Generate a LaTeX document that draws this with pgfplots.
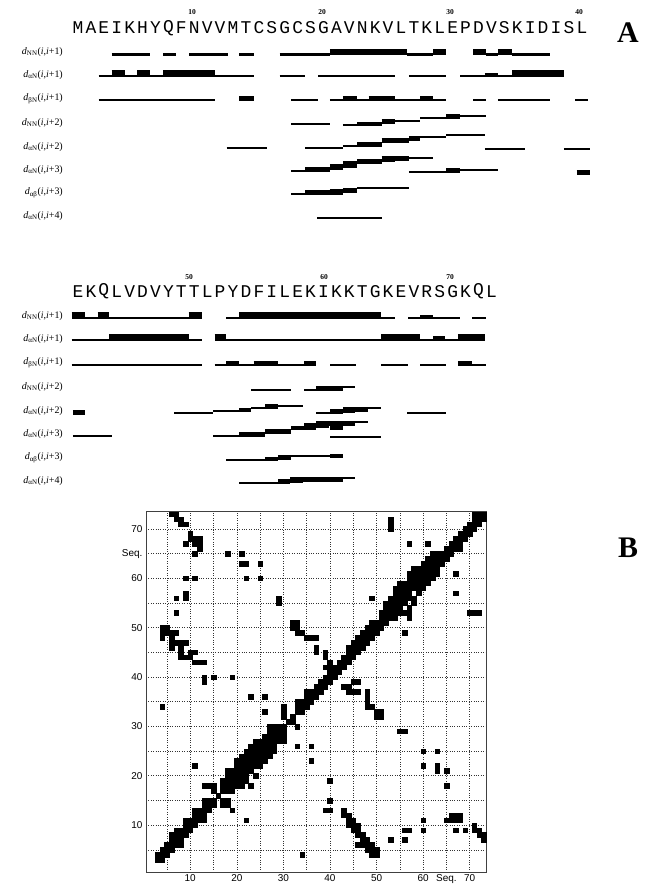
\documentclass[border=0pt]{standalone}
\usepackage{fontspec}
\setmainfont{Liberation Serif}
\setsansfont{Liberation Sans}
\setmonofont{Liberation Mono}
\usepackage{pgfplots}
\pgfplotsset{compat=1.18}
\tikzset{wk/.style={line width=2.2bp,line cap=butt,black},
 md/.style={line width=4.5bp,line cap=butt,black},
 st/.style={line width=6.8bp,line cap=butt,black}}
\newcommand{\rl}[2]{\textit{d}\textsubscript{#1}(\textit{i},\textit{i}+#2)}
\begin{document}
\begin{tikzpicture}
\path[use as bounding box] (0,0) rectangle (645bp,-886bp);
% ---------------- Panel A, block 1 (residues 1-40)
\begin{axis}[at={(0bp,0bp)},anchor=north west,scale only axis,width=645bp,height=240bp,
 xmin=-5.037,xmax=44.886,ymin=0,ymax=240,y dir=reverse,hide axis,clip=false]
% dNN(i,i+1)
\addplot[wk] coordinates {(3.6,54.4) (6.6,54.4)};
\addplot[wk] coordinates {(7.6,54.4) (8.6,54.4)};
\addplot[wk] coordinates {(9.6,54.4) (12.6,54.4)};
\addplot[wk] coordinates {(13.5,54.4) (14.6,54.4)};
\addplot[wk] coordinates {(16.6,54.4) (20.5,54.4)};
\addplot[st] coordinates {(20.5,52) (26.5,52)};
\addplot[wk] coordinates {(26.5,54.4) (28.5,54.4)};
\addplot[st] coordinates {(28.5,52) (29.5,52)};
\addplot[st] coordinates {(31.6,52) (32.6,52)};
\addplot[wk] coordinates {(32.6,54.4) (33.5,54.4)};
\addplot[st] coordinates {(33.5,52) (34.6,52)};
\addplot[wk] coordinates {(34.6,54.4) (37.5,54.4)};
% daN(i,i+1)
\addplot[wk] coordinates {(2.6,76.2) (3.6,76.2)};
\addplot[st] coordinates {(3.6,73.8) (4.6,73.8)};
\addplot[wk] coordinates {(4.6,76.2) (5.6,76.2)};
\addplot[st] coordinates {(5.6,73.8) (6.6,73.8)};
\addplot[wk] coordinates {(6.6,76.2) (7.6,76.2)};
\addplot[st] coordinates {(7.6,73.8) (11.6,73.8)};
\addplot[wk] coordinates {(11.6,76.2) (14.6,76.2)};
\addplot[wk] coordinates {(16.6,76.2) (18.6,76.2)};
\addplot[wk] coordinates {(19.6,76.2) (25.5,76.2)};
\addplot[wk] coordinates {(26.6,76.2) (29.5,76.2)};
\addplot[wk] coordinates {(30.6,76.2) (32.5,76.2)};
\addplot[md] coordinates {(32.5,75) (33.5,75)};
\addplot[wk] coordinates {(33.5,76.2) (34.6,76.2)};
\addplot[st] coordinates {(34.6,73.8) (38.6,73.8)};
% dbN(i,i+1)
\addplot[wk] coordinates {(2.6,99.9) (11.6,99.9)};
\addplot[md] coordinates {(13.5,98.7) (14.6,98.7)};
\addplot[wk] coordinates {(17.5,99.9) (19.6,99.9)};
\addplot[wk] coordinates {(20.5,99.9) (21.5,99.9)};
\addplot[md] coordinates {(21.5,98.7) (22.6,98.7)};
\addplot[wk] coordinates {(22.6,99.9) (23.5,99.9)};
\addplot[md] coordinates {(23.5,98.7) (25.5,98.7)};
\addplot[wk] coordinates {(25.5,99.9) (27.5,99.9)};
\addplot[md] coordinates {(27.5,98.7) (28.5,98.7)};
\addplot[wk] coordinates {(28.5,99.9) (29.5,99.9)};
\addplot[wk] coordinates {(31.6,99.9) (32.6,99.9)};
\addplot[wk] coordinates {(33.5,99.9) (37.5,99.9)};
\addplot[wk] coordinates {(39.5,99.9) (40.5,99.9)};
% dNN(i,i+2)
\addplot[wk] coordinates {(17.5,124.3) (20.5,124.3)};
\addplot[wk] coordinates {(21.5,125) (22.6,125)};
\addplot[md] coordinates {(22.6,124) (24.5,124)};
\addplot[md] coordinates {(24.5,121.7) (25.5,121.7)};
\addplot[wk] coordinates {(25.5,120.7) (27.5,120.7)};
\addplot[wk] coordinates {(27.5,118.3) (29.5,118.3)};
\addplot[md] coordinates {(29.5,116.7) (30.6,116.7)};
\addplot[wk] coordinates {(30.6,116) (32.6,116)};
% daN(i,i+2)
\addplot[wk] coordinates {(12.5,147.7) (15.6,147.7)};
\addplot[wk] coordinates {(18.6,148.3) (21.5,148.3)};
\addplot[wk] coordinates {(21.5,146) (22.6,146)};
\addplot[md] coordinates {(22.6,144.3) (24.5,144.3)};
\addplot[md] coordinates {(24.5,140.7) (26.6,140.7)};
\addplot[md] coordinates {(26.6,138.3) (27.5,138.3)};
\addplot[wk] coordinates {(27.5,136.7) (29.5,136.7)};
\addplot[wk] coordinates {(29.5,135) (32.5,135)};
\addplot[wk] coordinates {(32.5,149.3) (35.6,149.3)};
\addplot[wk] coordinates {(38.6,149.3) (40.6,149.3)};
% daN(i,i+3)
\addplot[wk] coordinates {(17.5,171) (18.6,171)};
\addplot[md] coordinates {(18.6,169.3) (20.5,169.3)};
\addplot[st] coordinates {(20.5,167) (21.5,167)};
\addplot[st] coordinates {(21.5,164.3) (22.6,164.3)};
\addplot[md] coordinates {(22.6,161.5) (24.5,161.5)};
\addplot[st] coordinates {(24.5,159) (25.5,159)};
\addplot[md] coordinates {(25.5,158.5) (26.6,158.5)};
\addplot[wk] coordinates {(26.6,157.7) (28.5,157.7)};
\addplot[wk] coordinates {(26.6,171.7) (29.5,171.7)};
\addplot[md] coordinates {(29.5,170.3) (30.6,170.3)};
\addplot[wk] coordinates {(30.6,170) (33.5,170)};
\addplot[md] coordinates {(39.6,172.3) (40.6,172.3)};
% dab(i,i+3)
\addplot[wk] coordinates {(17.5,194.3) (18.6,194.3)};
\addplot[md] coordinates {(18.6,192.5) (20.5,192.5)};
\addplot[st] coordinates {(20.5,192) (21.5,192)};
\addplot[md] coordinates {(21.5,190.5) (22.6,190.5)};
\addplot[wk] coordinates {(22.6,188) (26.6,188)};
% daN(i,i+4)
\addplot[wk] coordinates {(19.5,218.3) (24.5,218.3)};
\end{axis}
% ---------------- Panel A, block 2 (residues 41-73)
\begin{axis}[at={(0bp,-250bp)},anchor=north west,scale only axis,width=645bp,height=250bp,
 xmin=35.385,xmax=85,ymin=250,ymax=500,y dir=reverse,hide axis,clip=false]
% dNN(i,i+1)
\addplot[st] coordinates {(40.9,315.8) (41.9,315.8)};
\addplot[wk] coordinates {(41.9,318.2) (42.9,318.2)};
\addplot[st] coordinates {(42.9,315.8) (43.8,315.8)};
\addplot[wk] coordinates {(43.8,318.2) (49.9,318.2)};
\addplot[st] coordinates {(49.9,315.8) (50.9,315.8)};
\addplot[wk] coordinates {(52.8,318.2) (53.8,318.2)};
\addplot[st] coordinates {(53.8,315.8) (64.7,315.8)};
\addplot[wk] coordinates {(64.7,318.2) (65.8,318.2)};
\addplot[wk] coordinates {(66.8,318.2) (67.7,318.2)};
\addplot[md] coordinates {(67.7,317) (68.7,317)};
\addplot[wk] coordinates {(68.7,318.2) (70.8,318.2)};
\addplot[wk] coordinates {(71.7,318.2) (72.8,318.2)};
% daN(i,i+1)
\addplot[wk] coordinates {(40.9,339.9) (43.8,339.9)};
\addplot[st] coordinates {(43.8,337.5) (49.9,337.5)};
\addplot[wk] coordinates {(49.9,339.9) (50.9,339.9)};
\addplot[st] coordinates {(51.9,337.5) (52.8,337.5)};
\addplot[wk] coordinates {(52.8,339.9) (64.7,339.9)};
\addplot[st] coordinates {(64.7,337.5) (67.7,337.5)};
\addplot[wk] coordinates {(67.7,339.9) (68.7,339.9)};
\addplot[md] coordinates {(68.7,338.7) (69.6,338.7)};
\addplot[wk] coordinates {(69.6,339.9) (70.6,339.9)};
\addplot[st] coordinates {(70.6,337.5) (72.7,337.5)};
% dbN(i,i+1)
\addplot[wk] coordinates {(40.9,364.9) (50.9,364.9)};
\addplot[wk] coordinates {(51.9,364.9) (52.8,364.9)};
\addplot[md] coordinates {(52.8,363.7) (53.8,363.7)};
\addplot[wk] coordinates {(53.8,364.9) (54.9,364.9)};
\addplot[md] coordinates {(54.9,363.7) (56.8,363.7)};
\addplot[wk] coordinates {(56.8,364.9) (58.8,364.9)};
\addplot[md] coordinates {(58.8,363.7) (59.7,363.7)};
\addplot[wk] coordinates {(60.8,364.9) (62.8,364.9)};
\addplot[wk] coordinates {(64.7,364.9) (66.8,364.9)};
\addplot[wk] coordinates {(67.7,364.9) (69.7,364.9)};
\addplot[md] coordinates {(70.6,363.7) (71.7,363.7)};
\addplot[wk] coordinates {(71.7,364.9) (72.8,364.9)};
% dNN(i,i+2)
\addplot[wk] coordinates {(54.7,390) (57.8,390)};
\addplot[wk] coordinates {(58.8,390) (59.7,390)};
\addplot[md] coordinates {(59.7,388.5) (61.8,388.5)};
\addplot[wk] coordinates {(61.8,386.7) (62.7,386.7)};
% daN(i,i+2)
\addplot[md] coordinates {(41,412.7) (41.9,412.7)};
\addplot[wk] coordinates {(48.8,413.3) (51.8,413.3)};
\addplot[wk] coordinates {(51.8,411) (53.8,411)};
\addplot[md] coordinates {(53.8,410) (54.7,410)};
\addplot[wk] coordinates {(54.7,408.3) (55.8,408.3)};
\addplot[md] coordinates {(55.8,406.7) (56.8,406.7)};
\addplot[wk] coordinates {(56.8,405.7) (58.7,405.7)};
\addplot[wk] coordinates {(59.7,413.3) (61.8,413.3)};
\addplot[md] coordinates {(60.8,411) (62.7,411)};
\addplot[md] coordinates {(61.8,409.3) (63.7,409.3)};
\addplot[wk] coordinates {(63.7,408.3) (64.7,408.3)};
\addplot[wk] coordinates {(66.7,413.3) (69.7,413.3)};
% daN(i,i+3)
\addplot[wk] coordinates {(41,435.7) (44,435.7)};
\addplot[wk] coordinates {(51.8,436) (53.8,436)};
\addplot[md] coordinates {(53.8,434.3) (55.8,434.3)};
\addplot[md] coordinates {(55.8,431.7) (57.8,431.7)};
\addplot[md] coordinates {(57.8,428) (59.7,428)};
\addplot[md] coordinates {(58.8,425.5) (60.7,425.5)};
\addplot[md] coordinates {(59.7,423.5) (62.7,423.5)};
\addplot[wk] coordinates {(62.7,422.3) (63.7,422.3)};
\addplot[md] coordinates {(60.8,428) (61.8,428)};
\addplot[wk] coordinates {(60.8,436.7) (64.7,436.7)};
% dab(i,i+3)
\addplot[wk] coordinates {(52.8,460) (55.8,460)};
\addplot[md] coordinates {(55.8,459) (56.8,459)};
\addplot[md] coordinates {(56.8,457.3) (57.8,457.3)};
\addplot[wk] coordinates {(57.8,456) (61.8,456)};
\addplot[md] coordinates {(60.8,456) (61.8,456)};
% daN(i,i+4)
\addplot[wk] coordinates {(53.8,483.3) (57.7,483.3)};
\addplot[md] coordinates {(56.8,481) (58.7,481)};
\addplot[md] coordinates {(57.7,479.3) (61.8,479.3)};
\addplot[wk] coordinates {(61.8,478.3) (62.7,478.3)};
\end{axis}
% ---------------- Panel B: contact map
\begin{axis}[at={(146bp,-872bp)},anchor=south west,scale only axis,width=340bp,height=360.3bp,
 xmin=0.5,xmax=73.5,ymin=0.5,ymax=73.5,
 xtick={5,10,...,70},ytick={5,10,...,70},
 xticklabels={,10,,20,,30,,40,,50,,60,Seq.,70},
 yticklabels={,10,,20,,30,,40,,50,,60,Seq.,70},
 grid=major,major grid style={dotted,black!80,line width=0.6bp},
 tick style={draw=none},
 ticklabel style={font=\sffamily\fontsize{10}{10}\selectfont},
 xticklabel style={yshift=1bp},
 axis line style={line width=0.8bp,black!75}]
\addplot[only marks,mark=square*,mark size=2.3bp,black] coordinates {
(3,3) (3,4) (4,3) (4,4) (4,5) (5,4) (5,5) (5,6) (6,5) (6,6) (6,7) (6,8)
(7,6) (7,7) (7,8) (7,9) (8,6) (8,7) (8,8) (8,9) (9,8) (9,9) (9,10) (9,11)
(10,9) (10,10) (10,11) (11,10) (11,11) (11,12) (11,13) (12,11) (12,12) (12,13)
(13,11) (13,12) (13,13) (13,14) (13,15) (13,18) (14,13) (14,14) (14,15) (14,18)
(15,14) (15,15) (15,17) (15,18) (16,16) (17,14) (17,15) (17,17) (17,18) (17,19)
(18,17) (18,18) (18,19) (18,20) (18,21) (18,14) (18,15) (19,13)
(19,17) (19,18) (19,19) (19,20) (19,21)
(20,18) (20,19) (20,20) (20,21) (20,22) (20,23)
(21,18) (21,19) (21,20) (21,21) (21,22) (21,23) (21,24)
(22,19) (22,20) (22,21) (22,22) (22,23) (22,24) (22,25)
(23,18) (23,21) (23,22) (23,23) (23,24) (23,25) (23,26)
(24,20) (24,22) (24,23) (24,24) (24,25) (24,26) (24,27)
(25,22) (25,23) (25,24) (25,25) (25,26) (25,27)
(26,23) (26,24) (26,25) (26,26) (26,27) (26,28)
(27,24) (27,25) (27,26) (27,27) (27,28) (27,29) (27,30)
(28,25) (28,26) (28,27) (28,28) (28,29) (28,30)
(29,27) (29,28) (29,29) (29,30)
(30,27) (30,28) (30,29) (30,30) (30,32) (30,33) (30,34)
(31,31) (32,31) (32,32) (33,30) (33,33) (33,34) (33,35)
(34,33) (34,34) (34,35) (35,34) (35,35) (35,36) (35,37)
(36,35) (36,36) (36,37) (37,36) (37,37) (37,38) (38,37) (38,38) (38,39)
(39,38) (39,39) (39,40) (40,39) (40,40) (40,41) (41,40) (41,41) (41,42)
(42,41) (42,42) (42,43) (43,42) (43,43) (43,44)
(44,43) (44,44) (44,45) (44,46) (45,44) (45,45) (45,46) (45,47)
(46,45) (46,46) (46,47) (46,48) (47,46) (47,47) (47,48) (47,49)
(48,47) (48,48) (48,49) (48,50) (49,48) (49,49) (49,50) (49,51)
(50,49) (50,50) (50,51) (51,50) (51,51) (51,52) (51,53)
(52,51) (52,52) (52,53) (52,54) (52,55)
(53,52) (53,53) (53,54) (53,55) (53,56)
(54,52) (54,53) (54,54) (54,55) (54,56) (54,57) (54,58)
(55,53) (55,54) (55,55) (55,56) (55,57) (55,58) (55,59)
(56,53) (56,55) (56,56) (56,57) (56,58) (56,59)
(57,52) (57,53) (57,54) (57,56) (57,57) (57,58) (57,59) (57,60) (57,61)
(58,55) (58,56) (58,58) (58,59) (58,60) (58,61) (58,62)
(59,57) (59,58) (59,59) (59,60) (59,61) (59,62)
(60,58) (60,59) (60,60) (60,61) (60,62) (60,63)
(61,59) (61,60) (61,61) (61,62) (61,63) (61,64)
(62,60) (62,61) (62,62) (62,63) (62,64) (62,65)
(63,61) (63,62) (63,63) (63,64) (63,65)
(64,63) (64,64) (64,65) (65,64) (65,65) (65,66) (66,65) (66,66) (66,67)
(67,66) (67,67) (67,68) (68,66) (68,67) (68,68) (68,69)
(69,68) (69,69) (69,70) (70,69) (70,70) (70,71)
(71,70) (71,71) (71,72) (71,73) (72,71) (72,72) (72,73) (73,72) (73,73)
};
\addplot[only marks,mark=square*,mark size=2.3bp,black] coordinates {
(6,73) (7,73) (7,72) (8,72) (8,71) (9,71)
(10,69) (10,68) (11,68) (11,67) (12,68) (12,67) (12,66) (9,67) (11,65)
(18,65) (21,65) (21,63) (22,63) (25,63) (22,60) (25,60) (9,60) (11,60)
(29,56) (29,55) (7,56) (9,57) (9,56) (7,53)
(4,50) (4,49) (4,48) (5,50) (5,49) (6,49) (7,49) (6,48) (6,47) (6,46)
(7,47) (8,47) (9,47) (8,46) (8,45) (8,44) (9,44) (10,45) (10,44) (11,45)
(11,43) (12,43) (13,43) (13,40) (13,39) (15,40) (19,40)
(32,51) (33,51) (32,50) (33,50) (33,49) (34,49) (35,48) (36,48) (37,48)
(37,46) (37,45) (39,45) (39,44) (40,43) (39,42) (40,42)
(53,72) (53,71) (53,70) (57,67) (61,67) (49,56)
(4,34) (23,36) (26,36) (26,33) (11,22)
};
\addplot[only marks,mark=square*,mark size=2.3bp,black] coordinates {
(67,61) (67,57) (70,53) (71,53) (72,53) (56,49)
(43,38) (44,38) (45,39) (46,39) (44,37) (45,37) (46,37) (48,37) (48,36) (48,35)
(48,34) (49,34) (50,33) (51,33) (50,32) (51,32)
(55,29) (56,29) (60,25) (63,25) (60,22) (63,22) (63,21) (65,21) (65,18)
(65,11) (66,12) (67,12) (68,12) (66,11) (67,11) (68,11) (67,9) (69,9)
(71,10) (71,9) (72,9) (72,8) (73,8) (73,7)
(60,11) (60,9) (56,9) (57,9) (56,7) (53,7)
(43,13) (43,12) (44,12) (44,11) (45,11) (44,10) (45,10) (46,10) (45,9) (46,9)
(46,8) (47,8) (47,7) (48,7) (46,6) (47,6) (48,6) (49,6) (48,5) (49,5) (50,5)
(49,4) (50,4)
(22,11) (33,26) (36,26) (36,23) (40,19) (40,15) (39,13) (40,13) (34,4)
};
\end{axis}
% ---------------- Texts
\begin{scope}[x=1bp,y=-1bp]
\foreach \c [count=\i] in {M,A,E,I,K,H,Y,Q,F,N,V,V,M,T,C,S,G,C,S,G,A,V,N,K,V,L,T,K,L,E,P,D,V,S,K,I,D,I,S,L}
 \node[font=\ttfamily\fontsize{18}{18}\selectfont,inner sep=0pt] at ({78+(\i-1)*12.92},28) {\c};
\foreach \c [count=\i] in {E,K,Q,L,V,D,V,Y,T,T,L,P,Y,D,F,I,L,E,K,I,K,K,T,G,K,E,V,R,S,G,K,Q,L}
 \node[font=\ttfamily\fontsize{18}{18}\selectfont,inner sep=0pt] at ({78+(\i-1)*12.92},291.5) {\c};
\foreach \n/\x in {10/192,20/322,30/450,40/579}
 \node[font=\bfseries\fontsize{7.5}{8}\selectfont,inner sep=0pt] at (\x,12) {\n};
\foreach \n/\x in {50/189,60/324,70/450}
 \node[font=\bfseries\fontsize{7.5}{8}\selectfont,inner sep=0pt] at (\x,277) {\n};
\foreach \y/\a/\b in {52/NN/1,75/αN/1,99/βN/1,123/NN/2,147/αN/2,170/αN/3,193/αβ/3,216/αN/4}
 \node[anchor=east,font=\fontsize{10}{11}\selectfont,inner sep=0pt] at (63,\y) {\rl{\a}{\b}};
\foreach \y/\a/\b in {316/NN/1,339/αN/1,363/βN/1,387/NN/2,411/αN/2,434/αN/3,458/αβ/3,481/αN/4}
 \node[anchor=east,font=\fontsize{10}{11}\selectfont,inner sep=0pt] at (63,\y) {\rl{\a}{\b}};
\node[font=\bfseries\fontsize{30}{30}\selectfont] at (628,33) {A};
\node[font=\bfseries\fontsize{30}{30}\selectfont] at (628,548) {B};
\end{scope}
\end{tikzpicture}
\end{document}
